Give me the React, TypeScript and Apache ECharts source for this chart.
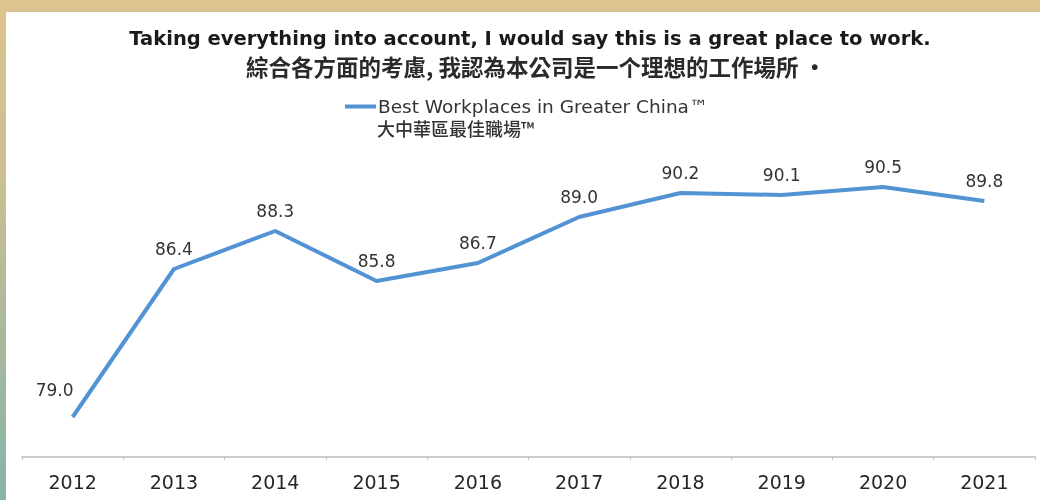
import React, { useEffect, useRef } from "react";
import * as echarts from "echarts";

const years = ["2012", "2013", "2014", "2015", "2016", "2017", "2018", "2019", "2020", "2021"];
const scores = [79.0, 86.4, 88.3, 85.8, 86.7, 89.0, 90.2, 90.1, 90.5, 89.8];
const seriesName = "Best Workplaces in Greater China™";
const seriesNameZh = "大中華區最佳職場™";
const titleEn = "Taking everything into account, I would say this is a great place to work.";
const titleZh = "綜合各方面的考慮, 我認為本公司是一个理想的工作場所 •";

export default function App() {
  const ref = useRef<HTMLDivElement>(null);
  useEffect(() => {
    if (!ref.current) return;
    const chart = echarts.init(ref.current, undefined, { renderer: "svg" });
    const font = "'DejaVu Sans', 'Noto Sans', sans-serif";
    chart.setOption({
      animation: false,
      backgroundColor: "transparent",
      graphic: [
        {
          type: "rect",
          z: -10,
          silent: true,
          shape: { x: 0, y: 0, width: 1040, height: 500 },
          style: {
            fill: new echarts.graphic.LinearGradient(0, 0, 0, 1, [
              { offset: 0, color: "#dcc38f" },
              { offset: 0.35, color: "#cbbf92" },
              { offset: 0.65, color: "#abb99c" },
              { offset: 1, color: "#86b5a8" },
            ]),
          },
        },
        {
          type: "rect",
          z: -9,
          silent: true,
          shape: { x: 6, y: 12, width: 1034, height: 488 },
          style: { fill: "#ffffff" },
        },
        {
          type: "text",
          x: 530,
          y: 38,
          style: {
            text: titleEn,
            fill: "#1a1a1a",
            font: `bold 19.5px ${font}`,
            align: "center",
            verticalAlign: "middle",
          },
        },
        {
          type: "text",
          x: 536,
          y: 66,
          style: {
            text: titleZh,
            fill: "#2a2a2a",
            font: `bold 22.5px 'Noto Sans CJK TC', sans-serif`,
            align: "center",
            verticalAlign: "middle",
          },
        },
        {
          type: "text",
          x: 377,
          y: 128,
          style: {
            text: seriesNameZh,
            fill: "#333333",
            font: `500 18px 'Noto Sans CJK TC', sans-serif`,
            lineHeight: 16,
            align: "left",
            verticalAlign: "middle",
          },
        },
      ],
      legend: {
        left: 340,
        top: 92,
        icon: "rect",
        itemWidth: 31,
        itemHeight: 4,
        itemGap: 10,
        textStyle: {
          fontSize: 18.5,
          lineHeight: 16,
          color: "#333333",
          fontFamily: font,
          padding: [0, 0, 0, -3],
        },
        data: [seriesName],
      },
      grid: { left: 22, right: 5, top: 157, bottom: 43, containLabel: false },
      xAxis: {
        type: "category",
        data: years,
        boundaryGap: true,
        axisLine: { lineStyle: { color: "#bdbdbd", width: 1.5 } },
        axisTick: { show: true, length: 3, lineStyle: { color: "#bdbdbd" } },
        axisLabel: { fontSize: 19, color: "#262626", margin: 15, fontFamily: font },
      },
      yAxis: { type: "value", min: 77, max: 92, show: false, splitLine: { show: false } },
      series: [
        {
          name: seriesName,
          type: "line",
          data: scores.map((v, i) =>
            i === 0 ? { value: v, label: { offset: [-18, -7] } } : v
          ),
          symbol: "circle",
          symbolSize: 0,
          showSymbol: true,
          itemStyle: { color: "#5193d3" },
          lineStyle: { color: "#5193d3", width: 4 },
          label: {
            show: true,
            position: "top",
            distance: 12,
            fontSize: 17,
            color: "#333333",
            fontFamily: font,
            formatter: (p: any) => Number(p.value).toFixed(1),
          },
        },
      ],
    });
    return () => chart.dispose();
  }, []);
  return (
    <div
      ref={ref}
      style={{ position: "fixed", left: 0, top: 0, width: 1040, height: 500 }}
    />
  );
}
